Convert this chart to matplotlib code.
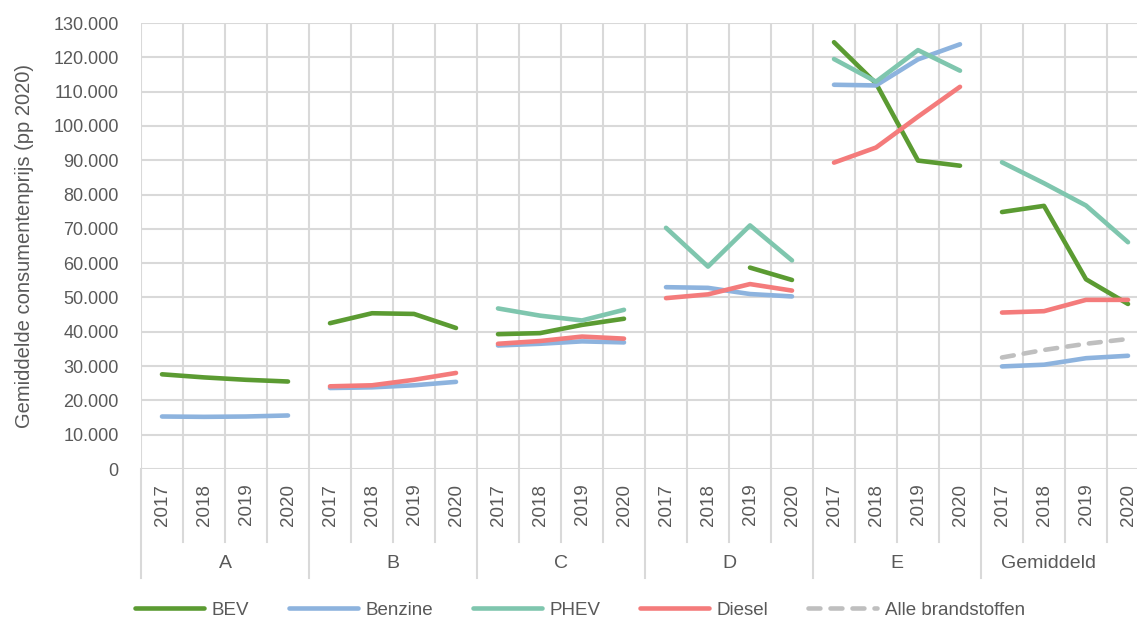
import numpy as np
import matplotlib
matplotlib.use("Agg")
import matplotlib.pyplot as plt
from matplotlib.ticker import FuncFormatter

plt.rcParams['font.family'] = ['Liberation Sans Narrow', 'Liberation Sans', 'DejaVu Sans']

groups = ['A', 'B', 'C', 'D', 'E', 'Gemiddeld']
years = ['2017', '2018', '2019', '2020']

# values per group (2017..2020), None = no data
bev = [[27600, 26700, 26000, 25500],
       [42500, 45400, 45200, 41100],
       [39300, 39600, 42000, 43800],
       [None, None, 58700, 55100],
       [124400, 112400, 89900, 88400],
       [74900, 76700, 55300, 48100]]
benzine = [[15300, 15200, 15300, 15600],
           [23600, 23800, 24400, 25400],
           [36000, 36500, 37200, 36900],
           [53000, 52800, 51000, 50300],
           [112000, 111800, 119400, 123800],
           [29900, 30400, 32300, 33000]]
phev = [[None, None, None, None],
        [None, None, None, None],
        [46800, 44700, 43300, 46400],
        [70300, 59000, 71000, 60800],
        [119500, 112900, 122100, 116100],
        [89400, 83300, 76800, 66100]]
diesel = [[None, None, None, None],
          [24100, 24400, 26000, 28000],
          [36500, 37300, 38600, 38000],
          [49800, 50900, 53900, 52000],
          [89300, 93700, 102700, 111400],
          [45600, 46000, 49300, 49300]]
alle = [[None, None, None, None],
        [None, None, None, None],
        [None, None, None, None],
        [None, None, None, None],
        [None, None, None, None],
        [32500, 34700, 36500, 37900]]

series = [
    ('BEV', bev, '#5b9b32', '-'),
    ('Benzine', benzine, '#8db3de', '-'),
    ('PHEV', phev, '#7fc6ae', '-'),
    ('Diesel', diesel, '#f47b7b', '-'),
    ('Alle brandstoffen', alle, '#bfbfbf', '--'),
]

W, H = 1137, 622
fig = plt.figure(figsize=(W / 100, H / 100), dpi=100)
x0, x1, y0, y1 = 141, 1149, 469, 23
ax = fig.add_axes([x0 / W, (H - y0) / H, (x1 - x0) / W, (y0 - y1) / H])

grid_c = '#d9d9d9'
text_c = '#595959'
n = len(groups) * len(years)
ax.set_xlim(-0.5, n - 0.5)
ax.set_ylim(0, 130000)
ax.set_yticks(np.arange(0, 130001, 10000))
ax.yaxis.set_major_formatter(FuncFormatter(lambda v, p: f'{int(v):,}'.replace(',', '.')))
ax.tick_params(axis='y', length=0, labelsize=13, colors=text_c, pad=16)
ax.set_xticks([])
for s in ax.spines.values():
    s.set_visible(False)
for v in np.arange(0, 130001, 10000):
    ax.axhline(v, color=grid_c, lw=1.5, zorder=0)
for b in np.arange(-0.5, n, 1):
    ax.axvline(b, color=grid_c, lw=1.5, zorder=0)

ax.set_ylabel('Gemiddelde consumentenprijs (pp 2020)', fontsize=14.5, color=text_c, labelpad=14)

for name, data, color, ls in series:
    first = True
    for gi, vals in enumerate(data):
        xs = [gi * 4 + i for i, v in enumerate(vals) if v is not None]
        ys = [v for v in vals if v is not None]
        if not xs:
            continue
        kw = dict(color=color, lw=3.3, solid_capstyle='round', zorder=3)
        if ls == '--':
            kw.update(dashes=(2.6, 2.2), dash_capstyle='round')
        ax.plot(xs, ys, label=name if first else None, **kw)
        first = False

# category axis below
tr = ax.get_xaxis_transform()
for gi, g in enumerate(groups):
    for yi, yr in enumerate(years):
        ax.text(gi * 4 + yi, -0.033, yr, rotation=90, ha='center', va='top',
                fontsize=13.5, color=text_c, transform=tr, clip_on=False)
        if yi > 0:
            ax.plot([gi * 4 + yi - 0.5] * 2, [0, -0.164], color=grid_c, lw=1.5,
                    transform=tr, clip_on=False)
    ax.plot([gi * 4 - 0.5] * 2, [0, -0.244], color=grid_c, lw=1.5,
            transform=tr, clip_on=False)
    gx = gi * 4 + 1.5
    if g == 'Gemiddeld':
        gx = gi * 4 + 1.1
    ax.text(gx, -0.211, g, ha='center', va='center', fontsize=14,
            color=text_c, transform=tr, clip_on=False)

leg = fig.legend(loc='center', bbox_to_anchor=(580 / W, (H - 610) / H), ncol=5,
                 frameon=False, fontsize=13.5, handlelength=3.7, handletextpad=0.4,
                 columnspacing=2.1)
for t in leg.get_texts():
    t.set_color(text_c)

fig.savefig('out.png', dpi=100)
